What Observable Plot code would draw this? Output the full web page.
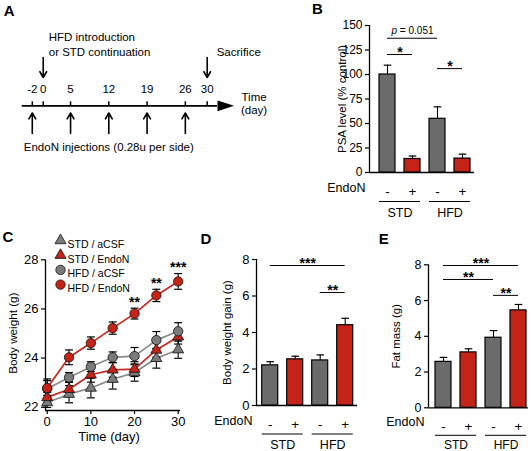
<!DOCTYPE html>
<html>
<head>
<meta charset="utf-8">
<script src="https://cdn.jsdelivr.net/npm/d3@7"></script>
<script src="https://cdn.jsdelivr.net/npm/@observablehq/plot@0.6"></script>
<style>
  body { margin: 0; background: #fff; }
  #fig { position: relative; width: 531px; height: 451px; overflow: hidden; background: #fff;
         font-family: "Liberation Sans", Arial, Helvetica, sans-serif; }
  #fig svg { position: absolute; overflow: visible; }
  .plabel { position: absolute; font-weight: bold; font-size: 15px; line-height: 1; transform: translate(-50%, -50%); }
</style>
</head>
<body>
<div id="fig"></div>
<script>
// ---------------- DATA ----------------
// Panel A: timeline
const timelineDays = [-2, 0, 5, 12, 19, 26, 30];
const injectionDays = [-2, 5, 12, 19, 26];
const dietDay = [0];
const sacrificeDay = [30];

// Shared bar-group categories
const groupDiet = ["STD", "STD", "HFD", "HFD"];
const groupEndoN = ["-", "+", "-", "+"];

// Panel B: PSA level (% control)
const psaMean = [100, 13.8, 54.8, 14.2];
const psaSEM = [9.5, 3.0, 12.2, 4.5];
const psaTicks = [0, 25, 50, 75, 100, 125, 150];
const psaSig = [
  {a: 0, b: 2, y: 137, label: "p = 0.051"},
  {a: 0, b: 1, y: 120.4, label: "*"},
  {a: 2, b: 3, y: 106, label: "*"}
];

// Panel C: body weight over time
const days = [0, 5, 10, 15, 20, 25, 30];
const seriesNames = ["STD / aCSF", "STD / EndoN", "HFD / aCSF", "HFD / EndoN"];
const bwStdAcsf = [22.19, 22.53, 22.78, 23.14, 23.41, 23.99, 24.34];
const bwStdAcsfSEM = [0.2, 0.35, 0.4, 0.4, 0.35, 0.4, 0.35];
const bwStdEndo = [22.4, 22.73, 23.32, 23.52, 23.55, 24.33, 24.87];
const bwStdEndoSEM = [0.2, 0.3, 0.3, 0.3, 0.3, 0.3, 0.3];
const bwHfdAcsf = [22.75, 23.21, 23.65, 24.03, 24.08, 24.73, 25.09];
const bwHfdAcsfSEM = [0.4, 0.2, 0.2, 0.22, 0.35, 0.35, 0.35];
const bwHfdEndo = [22.78, 24.03, 24.61, 25.22, 25.81, 26.55, 27.12];
const bwHfdEndoSEM = [0.3, 0.3, 0.25, 0.25, 0.22, 0.25, 0.32];
const bwStars = ["", "", "", "", "**", "**", "***"];
const bwTicksX = [0, 10, 20, 30];
const bwTicksY = [22, 24, 26, 28];

// Panel D: body weight gain (g)
const gainMean = [2.2, 2.53, 2.47, 4.4];
const gainSEM = [0.2, 0.17, 0.3, 0.38];
const gainTicks = [0, 2, 4, 6, 8];
const gainSig = [
  {a: 0, b: 3, y: 7.67, label: "***"},
  {a: 2, b: 3, y: 6.19, label: "**"}
];

// Panel E: fat mass (g)
const fatMean = [2.57, 3.1, 3.92, 5.45];
const fatSEM = [0.25, 0.2, 0.4, 0.33];
const fatTicks = [0, 2, 4, 6, 8];
const fatSig = [
  {a: 0, b: 3, y: 7.96, label: "***"},
  {a: 0, b: 2, y: 7.18, label: "**"},
  {a: 2, b: 3, y: 6.29, label: "**"}
];

// ---------------- STYLE ----------------
const FONT = '"Liberation Sans", Arial, Helvetica, sans-serif';
const GREY = "#6b6b6b", RED = "#c42318";
const LINE_GREY = "#8a8a8a", LINE_RED = "#c8261c", MARK_GREY = "#7b7b7b";
const baseStyle = {fontFamily: FONT, fontSize: "12px", background: "transparent", overflow: "visible", color: "black"};
const fig = document.getElementById("fig");

function place(el, left, top) {
  el.style.position = "absolute";
  el.style.left = left + "px";
  el.style.top = top + "px";
  el.style.maxWidth = "none";
  fig.appendChild(el);
}
function capSymbol(h) {
  return {draw(ctx) { ctx.moveTo(-h, 0); ctx.lineTo(h, 0); }};
}
const arrowHeadSymbol = {draw(ctx) { ctx.moveTo(0, -5.4); ctx.lineTo(16.5, 0); ctx.lineTo(0, 5.4); ctx.closePath(); }};

// ---------------- PANEL A ----------------
{
  const tl = timelineDays, axisY = 105.3;
  const p = Plot.plot({
    width: 300, height: 225,
    marginTop: 0, marginBottom: 0, marginLeft: 21.7, marginRight: 300 - 217,
    x: {domain: [tl[0], tl[tl.length - 1]], range: [31.8, 206.7], axis: null},
    y: {domain: [0, 225], range: [0, 225], axis: null},
    style: baseStyle,
    marks: [
      Plot.ruleY([axisY], {y: d => d, strokeWidth: 1.8}),
      Plot.dot([axisY], {y: d => d, frameAnchor: "right", symbol: arrowHeadSymbol, fill: "black", stroke: "none"}),
      Plot.ruleX(tl, {x: d => d, y1: 101.3, y2: 106.3, strokeWidth: 1.5}),
      Plot.text(tl, {x: d => d, y: 89.3, text: d => String(d), fontSize: 11.5}),
      Plot.arrow(injectionDays, {x: d => d, y1: 133, y2: 112.5, strokeWidth: 1.6, headLength: 7}),
      Plot.arrow(dietDay, {x: d => d, y1: 57, y2: 77, strokeWidth: 1.6, headLength: 7}),
      Plot.arrow(sacrificeDay, {x: d => d, y1: 57, y2: 77, strokeWidth: 1.6, headLength: 7}),
      Plot.text(dietDay, {x: d => d, y: 37, text: () => "HFD introduction", textAnchor: "start", dx: 5.5, fontSize: 11.5}),
      Plot.text(dietDay, {x: d => d, y: 52, text: () => "or STD continuation", textAnchor: "start", dx: 5.5, fontSize: 11.5}),
      Plot.text(sacrificeDay, {x: d => d, y: 52, text: () => "Sacrifice", textAnchor: "start", dx: 9.5, fontSize: 11.5}),
      Plot.text([d3.mean(injectionDays)], {x: d => d, y: 147, text: () => "EndoN injections (0.28u per side)", fontSize: 11.5}),
      Plot.text(["Time"], {y: () => 96.5, frameAnchor: "right", textAnchor: "start", dx: 24, text: d => d, fontSize: 11.5}),
      Plot.text(["(day)"], {y: () => 109.5, frameAnchor: "right", textAnchor: "start", dx: 23.5, text: d => d, fontSize: 11.5})
    ]
  });
  place(p, 0, 0);
}

// ---------------- BAR PANELS (B, D, E) ----------------
function barPanel(cfg) {
  const {mean, sem, ticks, yDomain, sig, ylabel, ylabelOffset, box, frame, firstCenter, tickFont, belowDy, belowFont} = cfg;
  const step = 25, half = 8 / step, cap = 3.8 / step;
  const fw = frame.right - frame.left;
  const off = (firstCenter - frame.left) / step;
  const xDomain = [-off, fw / step - off];
  const rows = mean.map((m, i) => ({i, m, top: m + sem[i], diet: groupDiet[i], endo: groupEndoN[i]}));
  const groups = d3.groups(rows, d => d.diet).map(([diet, rs]) => ({diet, a: rs[0].i, b: rs[rs.length - 1].i}));
  const y0 = () => yDomain[0];
  const stars = sig.filter(s => /^\*+$/.test(s.label));
  const other = sig.filter(s => !/^\*+$/.test(s.label));
  const p = Plot.plot({
    width: box.width, height: box.height,
    marginLeft: frame.left - box.left, marginRight: box.left + box.width - frame.right,
    marginTop: frame.top - box.top, marginBottom: box.top + box.height - frame.bottom,
    x: {domain: xDomain, axis: null},
    y: {domain: yDomain},
    color: {type: "identity"},
    style: baseStyle,
    marks: [
      Plot.axisY({ticks, tickSize: 4, tickPadding: 3, fontSize: tickFont, label: null, strokeWidth: 1.2, tickFormat: "d"}),
      Plot.ruleX([xDomain[0]], {x: d => d, strokeWidth: 1.3}),
      Plot.ruleY([yDomain[0]], {y: d => d, strokeWidth: 1.3}),
      Plot.ruleX(rows, {x: "i", y1: "m", y2: "top", strokeWidth: 1.1}),
      Plot.dot(rows, {x: "i", y: "top", symbol: capSymbol(cap * step), stroke: "black", fill: "none", strokeWidth: 1.2}),
      Plot.rect(rows, {x1: d => d.i - half, x2: d => d.i + half, y1: y0, y2: "m",
        fill: d => d.endo === "+" ? RED : GREY, stroke: "black", strokeWidth: 1.2}),
      Plot.ruleY(sig, {y: "y", x1: "a", x2: "b", strokeWidth: 1}),
      Plot.text(stars, {x: d => (d.a + d.b) / 2, y: "y", text: "label", lineAnchor: "bottom", dy: 2.5, fontWeight: "bold", fontSize: 14}),
      Plot.text(other, {x: d => (d.a + d.b) / 2, y: "y", text: "label", lineAnchor: "bottom", dy: -4, fontSize: 10}),
      Plot.text(rows, {x: "i", y: y0, text: "endo", dy: belowDy[0], fontSize: 13.5}),
      Plot.text(["EndoN"], {frameAnchor: "bottom-left", textAnchor: "end", dx: -4, dy: belowDy[0], text: d => d, fontSize: 12.5}),
      Plot.ruleY(groups, {y: y0, x1: d => d.a - half, x2: d => d.b + half, dy: belowDy[1], strokeWidth: 1}),
      Plot.text(groups, {x: d => (d.a + d.b) / 2, y: y0, text: "diet", dy: belowDy[2], fontSize: belowFont}),
      Plot.text([ylabel], {frameAnchor: "left", textAnchor: "middle", rotate: -90, dx: -ylabelOffset, text: d => d, fontSize: 11.5})
    ]
  });
  // italic "p"
  p.querySelectorAll("text").forEach(t => {
    if (t.textContent === "p = 0.051") {
      t.textContent = "";
      const s1 = document.createElementNS("http://www.w3.org/2000/svg", "tspan");
      s1.setAttribute("font-style", "italic"); s1.textContent = "p";
      const s2 = document.createElementNS("http://www.w3.org/2000/svg", "tspan");
      s2.textContent = " = 0.051";
      t.appendChild(s1); t.appendChild(s2);
    }
  });
  place(p, box.left, box.top);
}

barPanel({
  mean: psaMean, sem: psaSEM, ticks: psaTicks, yDomain: [0, 150], sig: psaSig,
  ylabel: "PSA level (% control)", ylabelOffset: 27, tickFont: 12, belowDy: [19, 29, 40], belowFont: 12.5,
  box: {left: 300, top: 0, width: 231, height: 225},
  frame: {left: 369, right: 474, top: 25, bottom: 172}, firstCenter: 387
});
barPanel({
  mean: gainMean, sem: gainSEM, ticks: gainTicks, yDomain: [0, 8], sig: gainSig,
  ylabel: "Body weight gain (g)", ylabelOffset: 29.5, tickFont: 13, belowDy: [19, 28.5, 39.5], belowFont: 12.5,
  box: {left: 195, top: 225, width: 170, height: 226},
  frame: {left: 256, right: 357, top: 259, bottom: 405}, firstCenter: 269.7
});
barPanel({
  mean: fatMean, sem: fatSEM, ticks: fatTicks, yDomain: [0, 8], sig: fatSig,
  ylabel: "Fat mass (g)", ylabelOffset: 32.5, tickFont: 12.5, belowDy: [18.5, 27.5, 37.5], belowFont: 12,
  box: {left: 360, top: 225, width: 171, height: 226},
  frame: {left: 428, right: 528, top: 264.3, bottom: 407.3}, firstCenter: 443
});

// ---------------- PANEL C ----------------
{
  const series = [
    {name: seriesNames[0], mean: bwStdAcsf, sem: bwStdAcsfSEM, symbol: "triangle", fill: MARK_GREY, line: LINE_GREY},
    {name: seriesNames[1], mean: bwStdEndo, sem: bwStdEndoSEM, symbol: "triangle", fill: RED, line: LINE_RED},
    {name: seriesNames[2], mean: bwHfdAcsf, sem: bwHfdAcsfSEM, symbol: "circle", fill: MARK_GREY, line: LINE_GREY},
    {name: seriesNames[3], mean: bwHfdEndo, sem: bwHfdEndoSEM, symbol: "circle", fill: RED, line: LINE_RED}
  ];
  const pts = s => days.map((d, i) => ({day: d, m: s.mean[i], lo: s.mean[i] - s.sem[i], hi: s.mean[i] + s.sem[i]}));
  const last = series[3];
  const starRows = days.map((d, i) => ({day: d, top: last.mean[i] + last.sem[i], star: bwStars[i]})).filter(d => d.star);
  const xDomain = [-0.39, 30.53], yDomain = [21.866, 28];
  const markerR = s => s.symbol === "circle" ? 4.7 : 4.1;
  const marks = [
    Plot.axisY({ticks: bwTicksY, tickSize: 4, tickPadding: 3, fontSize: 13, label: null, strokeWidth: 1.2, tickFormat: "d"}),
    Plot.axisX({ticks: bwTicksX, tickSize: 4, tickPadding: 2, fontSize: 13, label: null, strokeWidth: 1.2, tickFormat: "d"}),
    Plot.ruleX([xDomain[0]], {x: d => d, strokeWidth: 1.3}),
    Plot.ruleY([yDomain[0]], {y: d => d, strokeWidth: 1.3}),
    ...series.map(s => Plot.line(pts(s), {x: "day", y: "m", stroke: s.line, strokeWidth: 1.7})),
    ...series.flatMap(s => [
      Plot.ruleX(pts(s), {x: "day", y1: "lo", y2: "hi", strokeWidth: 1.1}),
      Plot.dot(pts(s), {x: "day", y: "lo", symbol: capSymbol(4), stroke: "black", fill: "none", strokeWidth: 1.2}),
      Plot.dot(pts(s), {x: "day", y: "hi", symbol: capSymbol(4), stroke: "black", fill: "none", strokeWidth: 1.2})
    ]),
    ...series.map(s => Plot.dot(pts(s), {x: "day", y: "m", symbol: s.symbol, r: markerR(s), fill: s.fill, stroke: "#111", strokeWidth: 0.8})),
    Plot.text(starRows, {x: "day", y: "top", text: "star", lineAnchor: "bottom", dy: -1.5, fontWeight: "bold", fontSize: 14}),
    // legend
    ...series.flatMap((s, i) => [
      Plot.dot([s], {frameAnchor: "top-left", dx: 15, dy: -19.3 + i * 14.7, symbol: s.symbol, r: markerR(s), fill: s.fill, stroke: "#111", strokeWidth: 0.8}),
      Plot.text([s], {frameAnchor: "top-left", dx: 22, dy: -19.3 + i * 14.7, textAnchor: "start", text: "name", fontSize: 10.5})
    ]),
    Plot.text(["Body weight (g)"], {frameAnchor: "left", textAnchor: "middle", rotate: -90, dx: -32, dy: -2, text: d => d, fontSize: 11.7}),
    Plot.text(["Time (day)"], {frameAnchor: "bottom", dx: -4, dy: 30, text: d => d, fontSize: 13})
  ];
  const p = Plot.plot({
    width: 200, height: 226,
    marginLeft: 45, marginRight: 20, marginTop: 34.3, marginBottom: 41,
    x: {domain: xDomain},
    y: {domain: yDomain},
    style: baseStyle,
    marks
  });
  place(p, 0, 225);
}

// ---------------- PANEL LETTERS ----------------
const panelLetters = [["A", 9.2, 10], ["B", 317.5, 8.3], ["C", 7.8, 235.8], ["D", 205.8, 237.5], ["E", 383.8, 238.3]];
panelLetters.forEach(([t, x, y]) => {
  const d = document.createElement("div");
  d.className = "plabel"; d.textContent = t;
  d.style.left = x + "px"; d.style.top = y + "px";
  fig.appendChild(d);
});
</script>
</body>
</html>
